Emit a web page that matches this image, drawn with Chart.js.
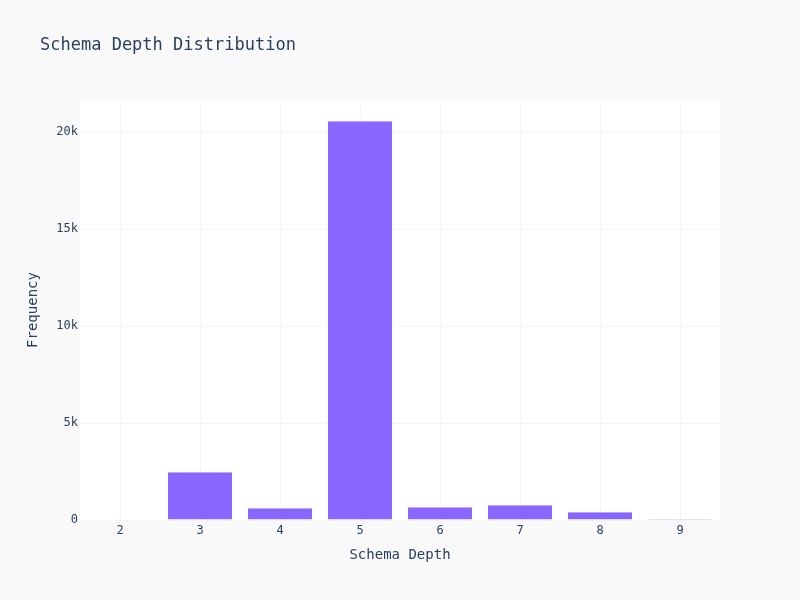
<!DOCTYPE html>
<html>
<head>
<meta charset="utf-8">
<script src="https://cdn.jsdelivr.net/npm/chart.js@4"></script>
<style>
html,body{margin:0;padding:0;background:#f9f9f9;}
#wrap{width:800px;height:600px;}
</style>
</head>
<body>
<div id="wrap"><canvas id="c" width="800" height="600"></canvas></div>
<script>
const categories = ['2','3','4','5','6','7','8','9'];
const frequencies = [0, 2480, 620, 20590, 670, 770, 410, 50];
const yTickValues = [0, 5000, 10000, 15000, 20000];
const yTickLabels = ['0', '5k', '10k', '15k', '20k'];

const FONT = "'DejaVu Sans Mono', monospace";
const TXT = '#2a3f5f';

const bgPlugin = {
  id: 'bg',
  beforeDraw(chart) {
    const {ctx, chartArea: a} = chart;
    ctx.save();
    ctx.fillStyle = '#f9f9f9';
    ctx.fillRect(0, 0, chart.width, chart.height);
    ctx.fillStyle = '#ffffff';
    ctx.fillRect(a.left, a.top, a.right - a.left, a.bottom - a.top);
    ctx.restore();
  },
  afterDraw(chart) {
    const {ctx} = chart;
    ctx.save();
    ctx.fillStyle = TXT;
    ctx.font = "17px " + FONT;
    ctx.textBaseline = 'middle';
    ctx.textAlign = 'left';
    ctx.fillText('Schema Depth Distribution', 40, 46);
    ctx.restore();
  }
};

new Chart(document.getElementById('c'), {
  type: 'bar',
  data: {
    labels: categories,
    datasets: [{
      data: frequencies,
      backgroundColor: '#8966ff',
      borderColor: '#bba8ff',
      borderWidth: {top: 1, left: 0, right: 0, bottom: 0},
      borderSkipped: 'bottom',
      barPercentage: 0.8,
      categoryPercentage: 1.0
    }]
  },
  options: {
    responsive: false,
    animation: false,
    layout: {padding: {left: 0, right: 80, top: 100, bottom: 0}},
    plugins: {legend: {display: false}, title: {display: false}, tooltip: {enabled: false}},
    scales: {
      x: {
        grid: {color: '#f5f5f5', drawTicks: false, offset: false},
        border: {display: false},
        ticks: {color: TXT, font: {family: FONT, size: 12}, padding: 4, maxRotation: 0},
        title: {display: true, text: 'Schema Depth', color: TXT, font: {family: FONT, size: 14}, padding: {top: 0, bottom: 36}},
        afterFit(s) { s.height = 80; }
      },
      y: {
        min: 0,
        max: 21666,
        afterBuildTicks(s) { s.ticks = yTickValues.map(v => ({value: v})); },
        grid: {color: '#f5f5f5', drawTicks: false},
        border: {display: false},
        ticks: {
          color: TXT, font: {family: FONT, size: 12}, padding: 2,
          callback: (v) => { const i = yTickValues.indexOf(v); return i >= 0 ? yTickLabels[i] : ''; }
        },
        title: {display: true, text: 'Frequency', color: TXT, font: {family: FONT, size: 14}, padding: {top: 25, bottom: 0}},
        afterFit(s) { s.width = 80; }
      }
    }
  },
  plugins: [bgPlugin]
});
</script>
</body>
</html>
